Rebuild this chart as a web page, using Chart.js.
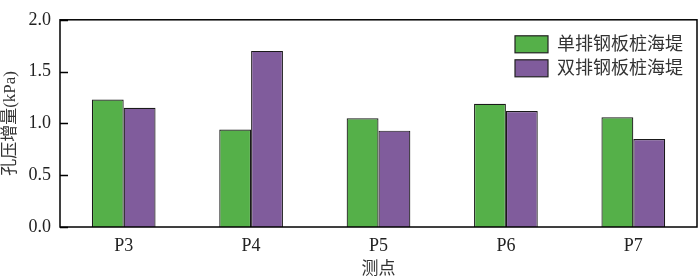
<!DOCTYPE html>
<html>
<head>
<meta charset="utf-8">
<script src="https://cdn.jsdelivr.net/npm/chart.js@4/dist/chart.umd.min.js"></script>
<style>
  html, body { margin: 0; padding: 0; background: #fff; }
  #wrap { width: 700px; height: 276px; }
</style>
</head>
<body>
<div id="wrap"><canvas id="grafico" width="700" height="276"></canvas></div>
<script>
// dati
let categorie = ["P3", "P4", "P5", "P6", "P7"];
let singolo = [1.23, 0.94, 1.05, 1.19, 1.06];   // 单排钢板桩海堤
let doppio = [1.15, 1.70, 0.93, 1.12, 0.85];    // 双排钢板桩海堤
let yTicks = [0.0, 0.5, 1.0, 1.5, 2.0];

let font = '"Liberation Serif", "Times New Roman", "Noto Sans CJK SC", serif';

// cornice, tacche interne e legenda dentro il grafico
let cornice = {
    id: 'cornice',
    afterDraw(chart) {
        let ctx = chart.ctx;
        let a = chart.chartArea;
        let y = chart.scales.y;
        ctx.save();
        ctx.strokeStyle = '#000';
        ctx.lineWidth = 1.5;
        ctx.strokeRect(a.left, a.top, a.right - a.left, a.bottom - a.top);
        ctx.beginPath();
        yTicks.forEach(v => {
            let py = Math.round(y.getPixelForValue(v)) + 0.5;
            ctx.moveTo(a.left, py);
            ctx.lineTo(a.left + 8, py);
        });
        ctx.stroke();

        // legenda
        ctx.font = '18px ' + font;
        ctx.textBaseline = 'middle';
        ctx.textAlign = 'left';
        chart.data.datasets.forEach((ds, i) => {
            let bx = a.right - 182;
            let by = a.top + 16 + i * 24;
            ctx.fillStyle = ds.backgroundColor;
            ctx.fillRect(bx, by, 33, 17);
            ctx.lineWidth = 1.2;
            ctx.strokeStyle = '#222';
            ctx.strokeRect(bx, by, 33, 17);
            ctx.fillStyle = '#333';
            ctx.fillText(ds.label, bx + 42, by + 9);
        });
        ctx.restore();
    }
};

new Chart("grafico", {
    type: "bar",
    data: {
        labels: categorie,
        datasets: [{
            label: "单排钢板桩海堤",
            data: singolo,
            backgroundColor: "#55b049",
            borderColor: "#1a1a1a",
            borderWidth: 1.2
        }, {
            label: "双排钢板桩海堤",
            data: doppio,
            backgroundColor: "#805c9c",
            borderColor: "#1a1a1a",
            borderWidth: 1.2
        }]
    },
    options: {
        responsive: false,
        animation: false,
        devicePixelRatio: 1,
        layout: { padding: { top: 7, right: 3, left: 0, bottom: 0 } },
        datasets: { bar: { categoryPercentage: 0.5, barPercentage: 1.0 } },
        plugins: {
            legend: { display: false },
            tooltip: { enabled: false }
        },
        scales: {
            x: {
                grid: { display: false, drawTicks: false },
                border: { display: false },
                ticks: { color: '#222', padding: 8, font: { family: font, size: 18 } },
                title: { display: true, text: '测点', color: '#333', padding: { top: 4, bottom: -4 }, font: { family: font, size: 17 } },
                afterFit(scale) { scale.height = 49; }
            },
            y: {
                min: 0,
                max: 2.0,
                afterBuildTicks(scale) { scale.ticks = yTicks.map(v => ({ value: v })); },
                grid: { display: false, drawTicks: false },
                border: { display: false },
                ticks: {
                    color: '#222',
                    padding: 9,
                    font: { family: font, size: 18 },
                    callback: v => v.toFixed(1)
                },
                title: { display: true, text: '孔压增量(kPa)', color: '#333', padding: { top: 0, bottom: 1 }, font: { family: font, size: 17 } },
                afterFit(scale) { scale.width = 60; }
            }
        }
    },
    plugins: [cornice]
});
</script>
</body>
</html>
